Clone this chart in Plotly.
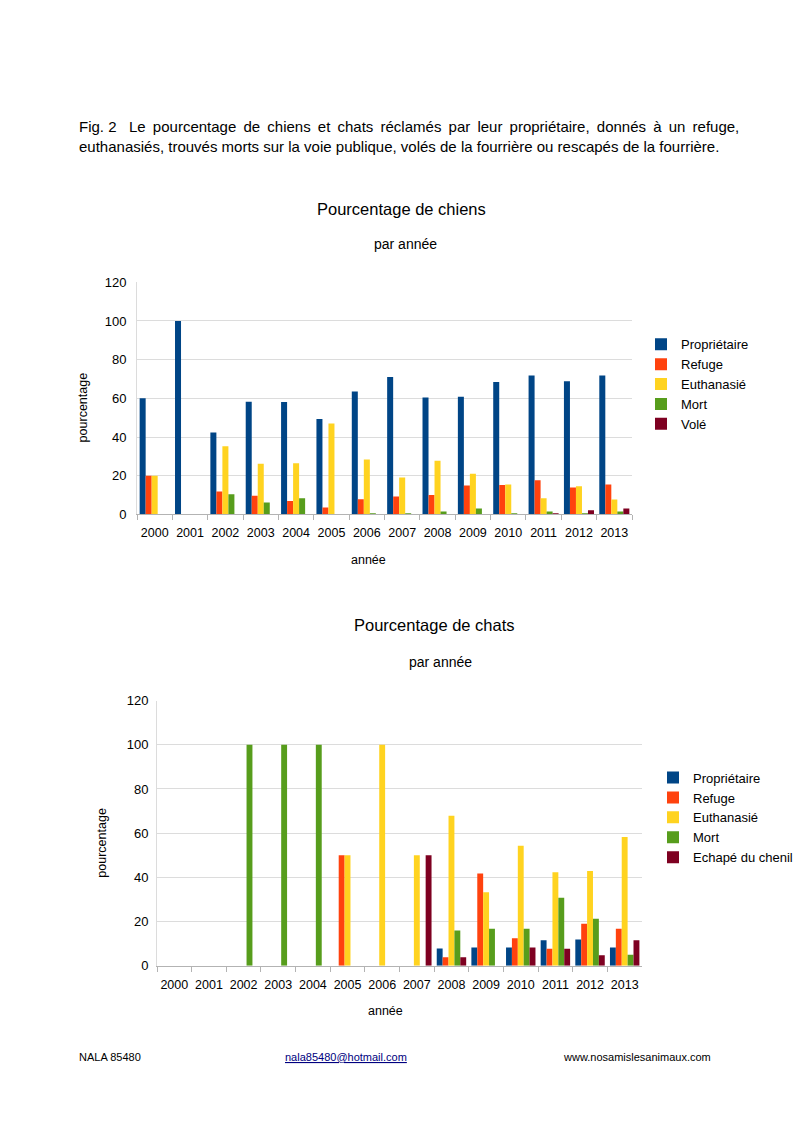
import plotly.graph_objects as go

PAGE_W, PAGE_H = 807, 1141
M = 8  # default body margin of the page
W, H = PAGE_W - 2 * M, PAGE_H - 2 * M

annees = ["2000", "2001", "2002", "2003", "2004", "2005", "2006",
          "2007", "2008", "2009", "2010", "2011", "2012", "2013"]

# Chiens (%)
chiens_proprietaire = [60, 100, 42.3, 58.3, 58.1, 49.4, 63.5, 71.1, 60.4, 60.8, 68.5, 71.8, 68.8, 71.8]
chiens_refuge = [20, 0, 11.9, 9.6, 6.9, 3.6, 7.9, 9.3, 10.0, 15.0, 15.2, 17.7, 13.9, 15.5]
chiens_euthanasie = [20, 0, 35.3, 26.2, 26.5, 47.0, 28.4, 19.1, 27.7, 21.0, 15.5, 8.4, 14.6, 7.7]
chiens_mort = [0, 0, 10.5, 6.2, 8.4, 0, 0.5, 0.5, 1.5, 3.1, 0.5, 1.5, 0.3, 1.5]
chiens_vole = [0, 0, 0, 0, 0, 0, 0, 0, 0, 0, 0, 0.3, 2.2, 3.1]

# Chats (%)
chats_proprietaire = [0, 0, 0, 0, 0, 0, 0, 0, 7.8, 8.3, 8.3, 11.5, 11.9, 8.3]
chats_refuge = [0, 0, 0, 0, 0, 50, 0, 0, 3.9, 41.8, 12.5, 7.7, 19.0, 16.7]
chats_euthanasie = [0, 0, 0, 0, 0, 50, 100, 50, 67.9, 33.3, 54.3, 42.3, 42.9, 58.3]
chats_mort = [0, 0, 100, 100, 100, 0, 0, 0, 16.0, 16.7, 16.7, 30.8, 21.3, 5.0]
chats_echappe = [0, 0, 0, 0, 0, 0, 0, 50, 3.9, 0, 8.3, 7.7, 4.7, 11.6]

noms_chiens = ["Propriétaire", "Refuge", "Euthanasié", "Mort", "Volé"]
noms_chats = ["Propriétaire", "Refuge", "Euthanasié", "Mort", "Echapé du chenil"]
couleurs = ["#004586", "#ff420e", "#ffd320", "#579d1c", "#7e0021"]

FONT = "Liberation Sans, Arial, sans-serif"


def px(x):
    return (x - M) / W


def py(y):
    # vertical placement, compensated for the capture's slight vertical squeeze
    y_page = (y - 8) / 0.986
    return 1 - (y_page - M) / H


fig = go.Figure()

series_chiens = [chiens_proprietaire, chiens_refuge, chiens_euthanasie, chiens_mort, chiens_vole]
series_chats = [chats_proprietaire, chats_refuge, chats_euthanasie, chats_mort, chats_echappe]

for i, (nom, vals) in enumerate(zip(noms_chiens, series_chiens)):
    fig.add_trace(go.Bar(x=annees, y=vals, name=nom, marker_color=couleurs[i],
                         marker_line_width=0, xaxis="x", yaxis="y",
                         legend="legend", legendgroup="c%d" % i))
for i, (nom, vals) in enumerate(zip(noms_chats, series_chats)):
    fig.add_trace(go.Bar(x=annees, y=vals, name=nom, marker_color=couleurs[i],
                         marker_line_width=0, xaxis="x2", yaxis="y2",
                         legend="legend2", legendgroup="k%d" % i))

axis_common = dict(
    showgrid=False, showline=True, linecolor="#b3b3b3", linewidth=1,
    ticks="outside", tickson="boundaries", ticklen=5, tickcolor="#b3b3b3",
    tickangle=0, ticklabelstandoff=7,
    tickfont=dict(family=FONT, size=12.5, color="#000000"), fixedrange=True,
)
yaxis_common = dict(
    range=[0, 120], dtick=20, showgrid=True, gridcolor="#dcdcdc", gridwidth=1,
    showline=True, linecolor="#dcdcdc", zeroline=False, ticks="",
    tickfont=dict(family=FONT, size=13, color="#000000"), fixedrange=True,
)

fig.update_layout(
    width=W, height=H,
    margin=dict(l=0, r=0, t=0, b=0),
    paper_bgcolor="white", plot_bgcolor="white",
    barmode="group", bargap=0.15, bargroupgap=0,
    font=dict(family=FONT, color="#000000"),
    xaxis=dict(domain=[px(137), px(632)], anchor="y", **axis_common),
    yaxis=dict(domain=[py(515), py(283)], anchor="x", ticklabelstandoff=7, **yaxis_common),
    xaxis2=dict(domain=[px(157), px(642)], anchor="y2", **axis_common),
    yaxis2=dict(domain=[py(966), py(701)], anchor="x2", ticklabelstandoff=5, **yaxis_common),
    legend=dict(x=px(641), y=py(330), xanchor="left", yanchor="top",
                font=dict(family=FONT, size=13), tracegroupgap=0,
                bgcolor="rgba(0,0,0,0)", itemclick=False),
    legend2=dict(x=px(653), y=py(763), xanchor="left", yanchor="top",
                 font=dict(family=FONT, size=13), tracegroupgap=0,
                 bgcolor="rgba(0,0,0,0)", itemclick=False),
    showlegend=True,
)

ann = []


def text(x, y, s, size, xanchor="center", angle=0, color="#000000"):
    ann.append(dict(x=px(x), y=py(y), xref="paper", yref="paper", text=s,
                    showarrow=False, xanchor=xanchor, yanchor="middle",
                    textangle=angle, font=dict(family=FONT, size=size, color=color)))


ligne1_mots = "Le pourcentage de chiens et chats réclamés par leur propriétaire, donnés à un refuge,"
ligne1 = "Fig. 2\u00a0\u00a0\u00a0" + ligne1_mots.replace(" ", " \u2009")
text(77, 127, ligne1, 15, "left")
text(77, 147, "euthanasiés, trouvés morts sur la voie publique, volés de la fourrière ou rescapés de la fourrière.", 15, "left")

text(401, 210, "Pourcentage de chiens", 16.5)
text(405, 245, "par année", 14)
text(83, 408, "pourcentage", 12.5, angle=-90)
text(368, 561, "année", 12.5)

text(435, 625, "Pourcentage de chats", 16.5)
text(440, 662, "par année", 14)
text(102, 843, "pourcentage", 12.5, angle=-90)
text(385, 1011, "année", 12.5)

text(77, 1057, "NALA 85480", 11, "left")
text(346, 1057, "<u>nala85480@hotmail.com</u>", 11, color="#000080")
text(713, 1057, "www.nosamislesanimaux.com", 11, "right")

fig.update_layout(annotations=ann)

fig.write_html("out.html", config={"displayModeBar": False})
